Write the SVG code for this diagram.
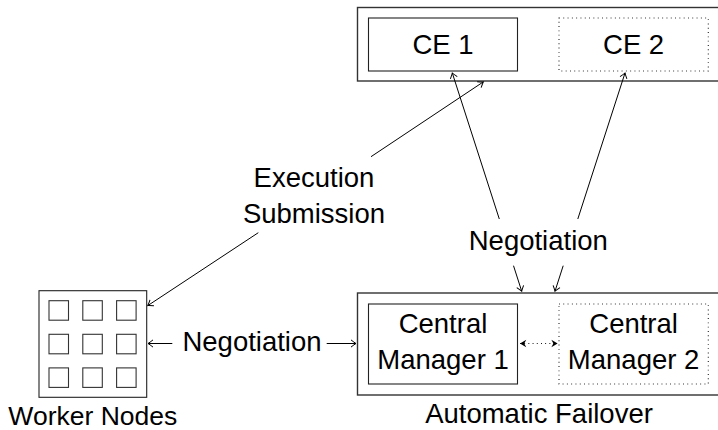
<svg xmlns="http://www.w3.org/2000/svg" width="718" height="430" viewBox="0 0 718 430">
<defs>
<style>
text{font-family:"Liberation Sans",Arial,sans-serif;font-size:27.5px;fill:#000;text-anchor:middle}
.outer{fill:none;stroke:#333;stroke-width:1.4}
.inner{fill:none;stroke:#222;stroke-width:1.1}
.dot{fill:none;stroke:#222;stroke-width:1.1;stroke-dasharray:0.9 3.4}
.sq{fill:none;stroke:#333;stroke-width:1.1}
.con{fill:none;stroke:#000;stroke-width:1;marker-end:url(#to)}
</style>
<marker id="to" markerUnits="userSpaceOnUse" markerWidth="12" markerHeight="12" viewBox="-7 -6 8 12" refX="0" refY="0" orient="auto-start-reverse">
<path d="M-5,-3.6 Q-1.6,-0.9 0,0 Q-1.6,0.9 -5,3.6" fill="none" stroke="#000" stroke-width="1"/>
</marker>
<marker id="st" markerUnits="userSpaceOnUse" markerWidth="10" markerHeight="10" viewBox="-6 -4 7 8" refX="0" refY="0" orient="auto-start-reverse">
<path d="M0,0 L-5,-3 L-3.4,0 L-5,3 Z" fill="#000"/>
</marker>
</defs>

<g id="ce-pool">
<rect class="outer" x="357.5" y="7.5" width="365" height="73.5"/>
</g>
<g id="ce1">
<rect class="inner" x="368.5" y="18" width="149" height="53"/>
<text x="443" y="54.3">CE 1</text>
</g>
<g id="ce2">
<rect class="dot" x="559" y="18" width="149.3" height="53"/>
<text x="633.6" y="54.3">CE 2</text>
</g>

<g id="failover">
<rect class="outer" x="357.5" y="293" width="365" height="102"/>
<text x="539" y="422.5">Automatic Failover</text>
</g>
<g id="cm1">
<rect class="inner" x="368.5" y="304" width="149" height="80"/>
<text x="443" y="333.3">Central</text>
<text x="443" y="369.3">Manager 1</text>
</g>
<g id="cm2">
<rect class="dot" x="559" y="304" width="149.3" height="80"/>
<text x="633.6" y="333.3">Central</text>
<text x="633.6" y="369.3">Manager 2</text>
</g>

<g id="workers">
<rect class="inner" x="39" y="290.7" width="107.7" height="106.6"/>
<rect class="sq" x="49" y="300.7" width="19.5" height="19.5"/>
<rect class="sq" x="82.8" y="300.7" width="19.5" height="19.5"/>
<rect class="sq" x="116.6" y="300.7" width="19.5" height="19.5"/>
<rect class="sq" x="49" y="334.3" width="19.5" height="19.5"/>
<rect class="sq" x="82.8" y="334.3" width="19.5" height="19.5"/>
<rect class="sq" x="116.6" y="334.3" width="19.5" height="19.5"/>
<rect class="sq" x="49" y="367.9" width="19.5" height="19.5"/>
<rect class="sq" x="82.8" y="367.9" width="19.5" height="19.5"/>
<rect class="sq" x="116.6" y="367.9" width="19.5" height="19.5"/>
<text x="92.8" y="424.5" style="font-size:26.5px">Worker Nodes</text>
</g>

<g id="connectors">
<line class="con" x1="258.3" y1="232.7" x2="147.8" y2="305.6"/>
<line class="con" x1="371" y1="156.7" x2="483.3" y2="81.9"/>
<line class="con" x1="499.3" y1="219" x2="452.3" y2="73"/>
<line class="con" x1="513.5" y1="265.7" x2="521.7" y2="291.2"/>
<line class="con" x1="577.8" y1="219" x2="625" y2="73"/>
<line class="con" x1="563.2" y1="265.7" x2="555" y2="291.2"/>
<line class="con" x1="172.3" y1="343.5" x2="148" y2="343.5"/>
<line class="con" x1="326.7" y1="343.5" x2="356" y2="343.5"/>
<line x1="520" y1="343.5" x2="557.6" y2="343.5" fill="none" stroke="#000" stroke-width="1" stroke-dasharray="0.9 3.3" marker-start="url(#st)" marker-end="url(#st)"/>
</g>

<g id="labels">
<text x="314" y="187.3">Execution</text>
<text x="314" y="223.3">Submission</text>
<text x="538.3" y="250">Negotiation</text>
<text x="252" y="350.7">Negotiation</text>
</g>
</svg>
